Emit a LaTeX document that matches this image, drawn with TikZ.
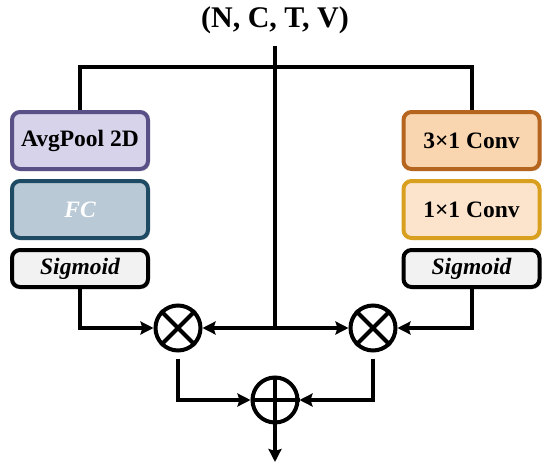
\documentclass[tikz,border=0pt]{standalone}
\usepackage{fontspec}
\setmainfont{Liberation Serif}
\usepackage{tikz}
\usetikzlibrary{arrows.meta, positioning, shadows}

\definecolor{poolfill}{HTML}{D6D3EA}
\definecolor{pooldraw}{HTML}{5A5088}
\definecolor{fcfill}{HTML}{B9C9D6}
\definecolor{fcdraw}{HTML}{1E4A63}
\definecolor{sigfill}{HTML}{F2F2F2}
\definecolor{convAfill}{HTML}{F9D5B0}
\definecolor{convAdraw}{HTML}{B5651D}
\definecolor{convBfill}{HTML}{FCE4CC}
\definecolor{convBdraw}{HTML}{D9A020}

\begin{document}
\begin{tikzpicture}[x=1pt, y=-1pt, line width=4pt,
    >={Stealth[length=13pt, width=13pt, inset=2pt]},
    box/.style={draw, rounded corners=8pt, align=center, minimum width=136pt, inner sep=0pt,
      font=\fontsize{23.5}{27}\selectfont\bfseries,
      drop shadow={opacity=0.2, shadow xshift=2pt, shadow yshift=-2pt}},
    bigbox/.style={box, minimum height=57pt},
    sigbox/.style={box, minimum height=37pt, fill=sigfill, font=\fontsize{23.5}{27}\selectfont\bfseries\itshape},
    op/.style={draw, circle, minimum size=45pt, inner sep=0pt}]
  \useasboundingbox (0,0) rectangle (550,467);

  \node[inner sep=0pt, font=\fontsize{30}{34}\selectfont\bfseries] (title) at (275,20) {(N, C, T, V)};
  \coordinate (split) at (275,67);
  \coordinate (mid) at (275,328);

  \node[bigbox, fill=poolfill, draw=pooldraw] (pool) at (80,140.5) {AvgPool 2D};
  \node[bigbox, fill=fcfill, draw=fcdraw, text=white, font=\fontsize{23.5}{27}\selectfont\bfseries\itshape,
    below=8pt of pool] (fc) {FC};
  \node[sigbox, below=8pt of fc] (sigl) {Sigmoid};

  \node[bigbox, fill=convAfill, draw=convAdraw] (conva) at (471.5,140.5) {3\texttimes1 Conv};
  \node[bigbox, fill=convBfill, draw=convBdraw, below=8pt of conva] (convb) {1\texttimes1 Conv};
  \node[sigbox, below=8pt of convb] (sigr) {Sigmoid};

  \node[op] (mull) at (178,328) {};
  \node[op] (mulr) at (373,328) {};
  \node[op] (add) at (275,400) {};
  \draw (mull.north west) -- (mull.south east) (mull.north east) -- (mull.south west);
  \draw (mulr.north west) -- (mulr.south east) (mulr.north east) -- (mulr.south west);
  \draw (add.north) -- (add.south) (add.west) -- (add.east);
  \coordinate (out) at (275,462);

  \draw ([yshift=-10pt]title.south) -- (mid);
  \draw (pool.north) |- (split) -| (conva.north);
  \draw[->] (sigl.south) |- (mull.west);
  \draw[->] (sigr.south) |- (mulr.east);
  \draw[->] (mid) -- (mull.east);
  \draw[->] (mid) -- (mulr.west);
  \draw[->, shorten <=6pt] (mull.south) |- (add.west);
  \draw[->, shorten <=6pt] (mulr.south) |- (add.east);
  \draw[->] (add.south) -- (out);
\end{tikzpicture}
\end{document}
